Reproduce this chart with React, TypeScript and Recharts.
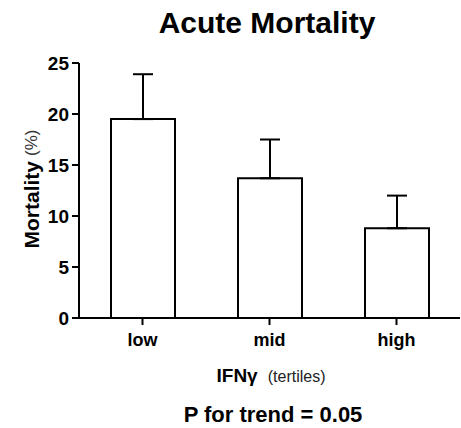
import React from 'react';
import { BarChart, Bar, XAxis, YAxis, ErrorBar, Label } from 'recharts';

// Acute mortality by IFN-gamma tertile (mean + upper SEM)
const tertiles = ['low', 'mid', 'high'];
const mortality = [19.5, 13.7, 8.8];
const upperError = [4.4, 3.8, 3.2];
const yTicks = [0, 5, 10, 15, 20, 25];

const FONT = '"Liberation Sans", Arial, sans-serif';

const data = tertiles.map((t, i) => ({
  tertile: t,
  mortality: mortality[i],
  err: [0, upperError[i]],
}));

const YTitle = () => (
  <text
    transform="translate(31,189) rotate(-90)"
    textAnchor="middle"
    dominantBaseline="central"
    fontFamily={FONT}
    fill="#000"
  >
    <tspan fontWeight="bold" fontSize={21}>Mortality</tspan>
    <tspan fontSize={17} fill="#333" dx={5}>(%)</tspan>
  </text>
);

const XTitle = () => (
  <g fontFamily={FONT} fill="#000">
    <text x={271} y={382} textAnchor="middle">
      <tspan fontWeight="bold" fontSize={19}>IFNγ</tspan>
      <tspan fontSize={16} fill="#222" dx={10}>(tertiles)</tspan>
    </text>
    <text x={273} y={422} textAnchor="middle" fontWeight="bold" fontSize={22}>
      P for trend = 0.05
    </text>
  </g>
);

export default function App() {
  return (
    <div style={{ position: 'absolute', left: 0, top: 0, width: 461, height: 428, background: '#fff' }}>
      <svg width={461} height={428} style={{ position: 'absolute', left: 0, top: 0 }}>
        <text x={267} y={33} textAnchor="middle" fontFamily={FONT} fontWeight="bold" fontSize={30} fill="#000">
          Acute Mortality
        </text>
      </svg>
      <div style={{ position: 'absolute', left: 0, top: 0 }}>
        <BarChart
          width={461}
          height={428}
          data={data}
          margin={{ top: 63, right: 1, bottom: 80, left: 0 }}
        >
          <XAxis
            dataKey="tertile"
            height={30}
            tickSize={7}
            tickMargin={8}
            axisLine={{ stroke: '#000', strokeWidth: 2 }}
            tickLine={{ stroke: '#000', strokeWidth: 2 }}
            tick={{ fill: '#000', fontSize: 18, fontWeight: 'bold', fontFamily: FONT }}
          >
            <Label content={<XTitle />} />
          </XAxis>
          <YAxis
            width={79}
            domain={[0, 25]}
            ticks={yTicks}
            interval={0}
            tickSize={7}
            tickMargin={3}
            axisLine={{ stroke: '#000', strokeWidth: 2 }}
            tickLine={{ stroke: '#000', strokeWidth: 2 }}
            tick={{ fill: '#000', fontSize: 19, fontWeight: 'bold', fontFamily: FONT }}
          >
            <Label content={<YTitle />} />
          </YAxis>
          <Bar
            dataKey="mortality"
            fill="#fff"
            stroke="#000"
            strokeWidth={2}
            barSize={64}
            isAnimationActive={false}
          >
            <ErrorBar dataKey="err" direction="y" width={10} stroke="#000" strokeWidth={2} />
          </Bar>
        </BarChart>
      </div>
    </div>
  );
}
